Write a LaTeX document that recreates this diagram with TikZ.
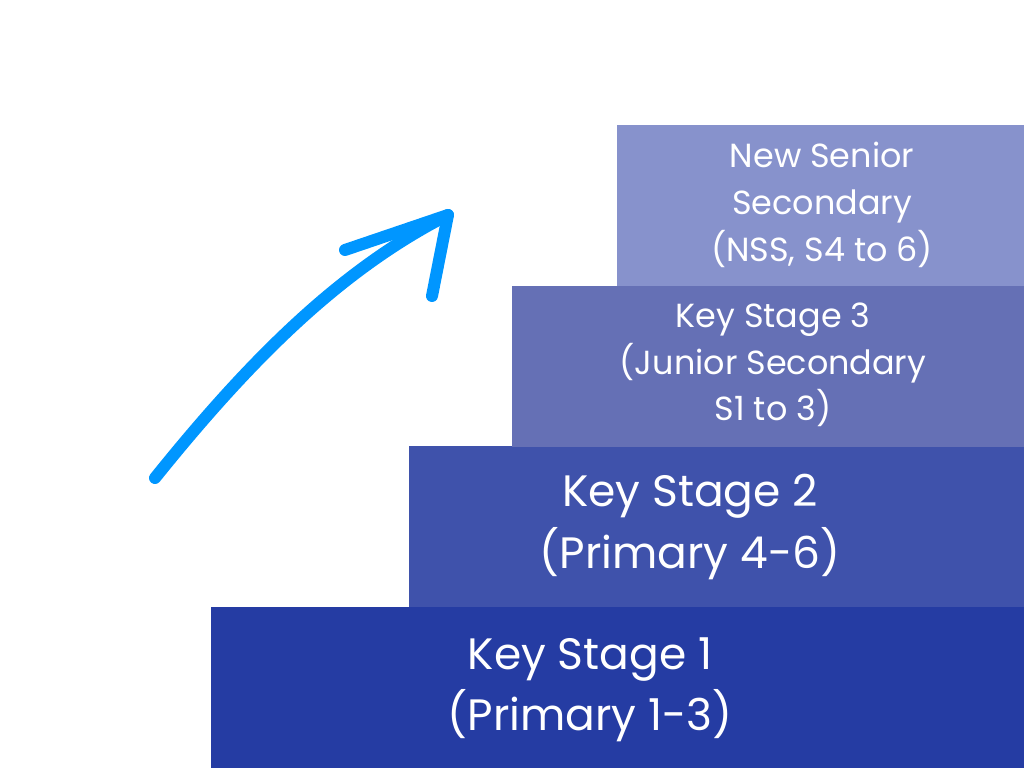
\documentclass[tikz,border=0pt]{standalone}
\usepackage{fontspec}
\setmainfont{Poppins}
\usetikzlibrary{positioning}
\definecolor{stepone}{HTML}{253CA3}
\definecolor{steptwo}{HTML}{3F52AB}
\definecolor{stepthree}{HTML}{6570B5}
\definecolor{stepfour}{HTML}{8792CC}
\definecolor{arrowblue}{HTML}{0096FF}
\begin{document}
\begin{tikzpicture}[x=0.01cm,y=-0.01cm,
  stepbox/.style={anchor=north west,inner sep=0pt,outer sep=0pt,minimum height=1.61cm},
  bigtext/.style={text=white,align=center,font=\fontsize{12.5}{17.5}\selectfont},
  smalltext/.style={text=white,align=center,font=\fontsize{9.5}{13.3}\selectfont}]
\useasboundingbox (0,0) rectangle (1024,768);

% the four steps
\node[stepbox,fill=stepone,minimum width=8.13cm] (one) at (211,607) {};
\node[stepbox,fill=steptwo,minimum width=6.15cm] (two) at (409,446) {};
\node[stepbox,fill=stepthree,minimum width=5.12cm] (three) at (512,286) {};
\node[stepbox,fill=stepfour,minimum width=4.07cm] (four) at (617,125) {};

\node[bigtext] (onetext) at (590,690) {Key Stage 1\\(Primary 1-3)};
\node[bigtext] (twotext) at (690,527) {Key Stage 2\\(Primary 4-6)};
\node[smalltext] (threetext) at (773,365) {Key Stage 3\\(Junior Secondary\\S1 to 3)};
\node[smalltext] (fourtext) at (822,205) {New Senior\\Secondary\\(NSS, S4 to 6)};

% arrow
\coordinate (tail) at (155,478);
\coordinate (tip) at (448,215);
\draw[arrowblue,line width=0.12cm,line cap=round,line join=round]
  (tail) .. controls (250,360) and (340,270) .. (tip);
\draw[arrowblue,line width=0.12cm,line cap=round,line join=round]
  (345,250) -- (tip) -- (432,296);
\end{tikzpicture}
\end{document}
